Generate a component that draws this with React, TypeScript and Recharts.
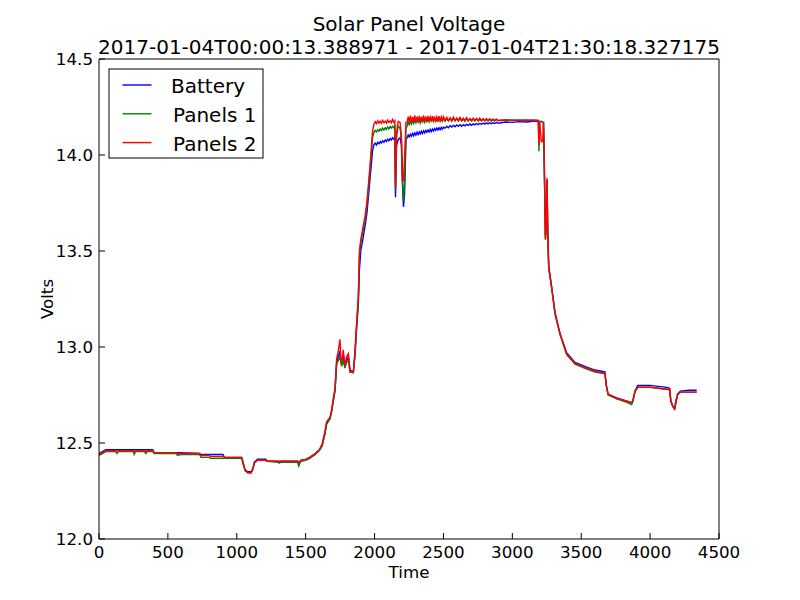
import React from 'react'
import { LineChart, Line, XAxis, YAxis, Legend } from 'recharts'

// sample index (x) and the three voltage traces
const time = [
  // morning, flat, small dip, rise
  0, 25, 50, 120, 130, 140, 250, 255, 265, 330, 340, 350, 390, 400, 560, 570, 590, 730, 740, 800,
  810, 900, 910, 1035, 1045, 1060, 1080, 1105, 1118, 1128, 1150, 1210, 1220, 1300, 1310, 1320, 1440, 1450, 1465, 1500,
  1530, 1570, 1600, 1620, 1640, 1652, 1677, 1690, 1700, 1713, 1725, 1737, 1749, 1755, 1761, 1773, 1785, 1797, 1810, 1822,
  1846, 1858, 1870, 1882, 1890, 1900, 1915, 1931, 1945, 1955, 1970, 1985,
  // plateau start
  1996, 2005, 2014, 2023, 2032, 2041, 2050, 2059, 2068, 2077, 2086, 2095, 2104, 2113, 2122, 2131, 2140, 2147,
  // dips
  2152, 2160, 2172, 2185, 2195, 2203, 2210, 2218, 2228,
  // noisy plateau
  2236, 2244, 2252, 2260, 2268, 2276, 2284, 2292, 2300, 2308, 2316, 2324, 2332, 2340, 2348, 2356, 2364, 2372, 2380, 2388,
  2396, 2404, 2412, 2420, 2428, 2436, 2444, 2452, 2460, 2468, 2476, 2484, 2492, 2500,
  2512, 2524, 2536, 2548, 2560, 2572, 2584, 2596, 2608, 2620, 2632, 2644, 2656, 2668, 2680, 2692, 2704, 2716, 2728, 2740,
  2752, 2764, 2776, 2788, 2800, 2812, 2824, 2836, 2848, 2860, 2872, 2884, 2896,
  2920, 2950, 3000, 3050, 3100, 3150, 3188,
  // evening drop
  3193, 3198, 3210, 3220, 3226, 3232, 3240, 3246, 3252, 3257, 3264, 3285, 3310, 3346,
  3394, 3455, 3540, 3600, 3672, 3682, 3695, 3757, 3820, 3866, 3875, 3890, 3910, 4000, 4060, 4120, 4142, 4150, 4165, 4178,
  4188, 4200, 4220, 4280, 4338,
]

const battery = [
  12.445, 12.455, 12.465, 12.465, 12.465, 12.465, 12.465, 12.465, 12.465, 12.465, 12.465, 12.465, 12.465, 12.45, 12.45, 12.45, 12.45, 12.445, 12.44, 12.44,
  12.44, 12.44, 12.425, 12.425, 12.4, 12.36, 12.35, 12.35, 12.37, 12.4, 12.415, 12.415, 12.405, 12.405, 12.405, 12.405, 12.405, 12.4, 12.41, 12.415,
  12.425, 12.445, 12.465, 12.49, 12.55, 12.6, 12.63, 12.67, 12.72, 12.775, 12.92, 12.95, 12.98, 12.93, 12.92, 12.96, 12.9, 12.93, 12.95, 12.88,
  12.87, 12.96, 13.1, 13.22, 13.4, 13.5, 13.56, 13.63, 13.7, 13.78, 13.9, 14.02,
  14.055, 14.062, 14.052, 14.066, 14.058, 14.07, 14.062, 14.074, 14.066, 14.078, 14.07, 14.082, 14.074, 14.086, 14.078, 14.09, 14.082, 14.092,
  13.78, 14.05, 14.08, 14.09, 14.05, 13.84, 13.73, 13.8, 14.08,
  14.09, 14.104, 14.094, 14.108, 14.098, 14.112, 14.1, 14.115, 14.104, 14.118, 14.106, 14.12, 14.11, 14.124, 14.112, 14.126, 14.115, 14.128, 14.118, 14.13,
  14.12, 14.133, 14.122, 14.135, 14.125, 14.137, 14.128, 14.14, 14.13, 14.142, 14.132, 14.144, 14.135, 14.145,
  14.14, 14.15, 14.142, 14.152, 14.145, 14.154, 14.147, 14.156, 14.149, 14.158, 14.15, 14.158, 14.152, 14.16, 14.154, 14.162, 14.155, 14.162, 14.157, 14.164,
  14.158, 14.165, 14.16, 14.166, 14.161, 14.167, 14.162, 14.168, 14.163, 14.168, 14.164, 14.17, 14.165,
  14.168, 14.172, 14.17, 14.174, 14.172, 14.176, 14.175,
  14.17, 14.175, 14.175, 14.17, 14.17, 13.95, 13.58, 13.62, 13.87, 13.6, 13.42, 13.315, 13.18, 13.07,
  12.97, 12.92, 12.895, 12.88, 12.87, 12.8, 12.755, 12.735, 12.72, 12.71, 12.72, 12.77, 12.8, 12.8, 12.795, 12.79, 12.785, 12.72, 12.69, 12.68,
  12.72, 12.755, 12.77, 12.775, 12.775,
]

const panels1 = [
  12.435, 12.445, 12.455, 12.455, 12.445, 12.455, 12.455, 12.44, 12.455, 12.455, 12.445, 12.455, 12.455, 12.445, 12.445, 12.435, 12.44, 12.44, 12.425, 12.425,
  12.42, 12.42, 12.42, 12.42, 12.395, 12.355, 12.345, 12.345, 12.365, 12.395, 12.41, 12.41, 12.405, 12.4, 12.395, 12.4, 12.4, 12.38, 12.405, 12.41,
  12.42, 12.44, 12.46, 12.485, 12.55, 12.6, 12.625, 12.67, 12.715, 12.77, 12.91, 12.93, 12.95, 12.92, 12.9, 12.93, 12.89, 12.92, 12.93, 12.87,
  12.865, 12.96, 13.11, 13.24, 13.47, 13.54, 13.6, 13.66, 13.74, 13.82, 13.95, 14.09,
  14.118, 14.128, 14.12, 14.132, 14.124, 14.136, 14.128, 14.14, 14.13, 14.142, 14.134, 14.146, 14.136, 14.148, 14.14, 14.15, 14.142, 14.15,
  13.82, 14.1, 14.15, 14.14, 14.08, 13.86, 13.76, 13.86, 14.14,
  14.15, 14.172, 14.158, 14.178, 14.162, 14.185, 14.165, 14.18, 14.168, 14.188, 14.17, 14.182, 14.166, 14.19, 14.172, 14.184, 14.17, 14.19, 14.174, 14.186,
  14.172, 14.19, 14.176, 14.186, 14.174, 14.192, 14.176, 14.186, 14.175, 14.19, 14.178, 14.188, 14.176, 14.19,
  14.176, 14.19, 14.178, 14.188, 14.176, 14.192, 14.178, 14.188, 14.177, 14.19, 14.178, 14.186, 14.176, 14.19, 14.178, 14.188, 14.177, 14.186, 14.178, 14.19,
  14.177, 14.186, 14.178, 14.188, 14.177, 14.185, 14.178, 14.187, 14.177, 14.184, 14.178, 14.186, 14.178,
  14.18, 14.184, 14.18, 14.182, 14.18, 14.182, 14.18,
  14.02, 14.175, 14.175, 14.17, 14.17, 13.95, 13.56, 13.6, 13.86, 13.58, 13.41, 13.31, 13.17, 13.065,
  12.96, 12.91, 12.885, 12.87, 12.86, 12.8, 12.75, 12.73, 12.715, 12.7, 12.715, 12.765, 12.79, 12.79, 12.785, 12.78, 12.775, 12.72, 12.69, 12.675,
  12.71, 12.75, 12.765, 12.765, 12.765,
]

const panels2 = [
  12.44, 12.45, 12.46, 12.46, 12.46, 12.46, 12.46, 12.455, 12.46, 12.46, 12.455, 12.46, 12.46, 12.45, 12.45, 12.445, 12.445, 12.445, 12.435, 12.435,
  12.43, 12.43, 12.425, 12.425, 12.4, 12.36, 12.345, 12.345, 12.37, 12.4, 12.41, 12.41, 12.405, 12.405, 12.4, 12.405, 12.405, 12.395, 12.41, 12.415,
  12.425, 12.445, 12.465, 12.495, 12.56, 12.61, 12.635, 12.68, 12.73, 12.785, 12.94, 12.98, 13.04, 12.94, 12.915, 12.985, 12.9, 12.95, 12.965, 12.87,
  12.87, 12.98, 13.13, 13.26, 13.5, 13.56, 13.62, 13.68, 13.76, 13.84, 13.97, 14.12,
  14.162, 14.174, 14.164, 14.178, 14.166, 14.176, 14.165, 14.18, 14.168, 14.176, 14.166, 14.182, 14.17, 14.178, 14.168, 14.185, 14.17, 14.178,
  13.83, 14.12, 14.175, 14.17, 14.1, 13.86, 13.87, 14.0, 14.17,
  14.17, 14.2, 14.172, 14.205, 14.168, 14.198, 14.174, 14.206, 14.17, 14.2, 14.176, 14.204, 14.17, 14.198, 14.175, 14.206, 14.172, 14.2, 14.176, 14.204,
  14.174, 14.198, 14.178, 14.203, 14.174, 14.2, 14.178, 14.198, 14.176, 14.202, 14.178, 14.198, 14.176, 14.2,
  14.18, 14.196, 14.178, 14.194, 14.18, 14.198, 14.178, 14.192, 14.18, 14.195, 14.179, 14.192, 14.18, 14.194, 14.178, 14.19, 14.18, 14.192, 14.179, 14.19,
  14.18, 14.192, 14.178, 14.188, 14.18, 14.19, 14.179, 14.188, 14.18, 14.188, 14.179, 14.186, 14.18,
  14.182, 14.18, 14.183, 14.18, 14.182, 14.18, 14.18,
  14.05, 14.175, 14.07, 14.07, 14.17, 13.95, 13.56, 13.62, 13.88, 13.6, 13.42, 13.31, 13.175, 13.07,
  12.965, 12.915, 12.89, 12.875, 12.862, 12.8, 12.755, 12.733, 12.72, 12.71, 12.72, 12.77, 12.79, 12.79, 12.785, 12.78, 12.78, 12.72, 12.69, 12.68,
  12.72, 12.755, 12.765, 12.765, 12.765,
]

const xTicks = [0, 500, 1000, 1500, 2000, 2500, 3000, 3500, 4000, 4500]
const yTicks = [12.0, 12.5, 13.0, 13.5, 14.0, 14.5]

const series = [
  { key: 'battery', name: 'Battery', color: '#0000ff' },
  { key: 'panels1', name: 'Panels 1', color: '#008000' },
  { key: 'panels2', name: 'Panels 2', color: '#ff0000' },
]

const chartData = time.map((t, i) => ({
  t,
  battery: battery[i],
  panels1: panels1[i],
  panels2: panels2[i],
}))

const FONT = '"DejaVu Sans", sans-serif'
const tickStyle = { fontSize: 16.7, fill: '#000', fontFamily: FONT }

function LegendBox({ payload }: any) {
  return (
    <svg width={157} height={92} style={{ display: 'block' }}>
      <rect x={1} y={1} width={154} height={89} fill="#fff" stroke="#000" strokeWidth={1} />
      {(payload || []).map((p: any, i: number) => (
        <g key={p.value}>
          <line x1={14.5} x2={43.5} y1={17 + i * 28.8} y2={17 + i * 28.8} stroke={p.color} strokeWidth={1.4} />
          <text x={i === 0 ? 63 : 65} y={25 + i * 28.8} fontSize={20} fontFamily={FONT} fill="#000">
            {p.value}
          </text>
        </g>
      ))}
    </svg>
  )
}

export default function App() {
  return (
    <div style={{ position: 'absolute', left: 0, top: 0, width: 800, height: 600, background: '#fff' }}>
      <LineChart width={800} height={600} data={chartData} margin={{ top: 58, right: 80, bottom: 60, left: 98 }}>
        <XAxis
          xAxisId="b"
          dataKey="t"
          type="number"
          domain={[0, 4500]}
          ticks={xTicks}
          height={1}
          allowDataOverflow
          tick={tickStyle}
          tickSize={-6}
          tickMargin={13}
          axisLine={{ stroke: '#000' }}
          tickLine={{ stroke: '#000' }}
        />
        <XAxis
          xAxisId="t"
          orientation="top"
          dataKey="t"
          type="number"
          domain={[0, 4500]}
          ticks={xTicks}
          height={1}
          allowDataOverflow
          tick={false}
          tickSize={-6}
          axisLine={{ stroke: '#000' }}
          tickLine={{ stroke: '#000' }}
        />
        <YAxis
          yAxisId="l"
          type="number"
          domain={[12, 14.5]}
          ticks={yTicks}
          width={1}
          allowDataOverflow
          tick={tickStyle}
          tickFormatter={(v: number) => v.toFixed(1)}
          tickSize={-6}
          tickMargin={12}
          axisLine={{ stroke: '#000' }}
          tickLine={{ stroke: '#000' }}
        />
        <YAxis
          yAxisId="r"
          orientation="right"
          type="number"
          domain={[12, 14.5]}
          ticks={yTicks}
          width={1}
          allowDataOverflow
          tick={false}
          tickSize={-6}
          axisLine={{ stroke: '#000' }}
          tickLine={{ stroke: '#000' }}
        />
        {series.map((s) => (
          <Line
            key={s.key}
            xAxisId="b"
            yAxisId="l"
            type="linear"
            dataKey={s.key}
            name={s.name}
            stroke={s.color}
            strokeWidth={1.4}
            dot={false}
            isAnimationActive={false}
          />
        ))}
        <Legend
          layout="horizontal"
          verticalAlign="middle"
          align="center"
          content={<LegendBox />}
          wrapperStyle={{ left: 108, top: 68, width: 157, height: 92 }}
        />
      </LineChart>
      <svg
        width={800}
        height={600}
        style={{ position: 'absolute', left: 0, top: 0, pointerEvents: 'none' }}
        fontFamily={FONT}
      >
        <text x={409} y={31} textAnchor="middle" fontSize={20}>
          Solar Panel Voltage
        </text>
        <text x={409} y={54} textAnchor="middle" fontSize={20}>
          2017-01-04T00:00:13.388971 - 2017-01-04T21:30:18.327175
        </text>
        <text x={409} y={578} textAnchor="middle" fontSize={16.7}>
          Time
        </text>
        <text x={53} y={299} textAnchor="middle" fontSize={16.7} transform="rotate(-90 53 299)">
          Volts
        </text>
      </svg>
    </div>
  )
}
